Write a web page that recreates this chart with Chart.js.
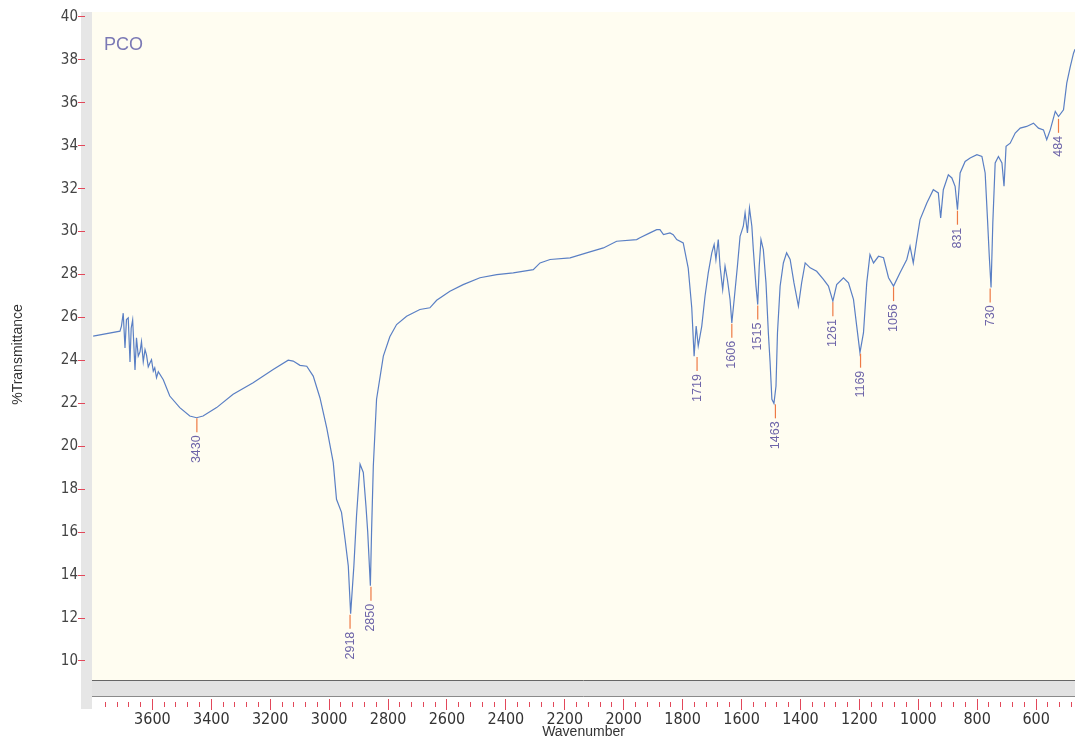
<!DOCTYPE html>
<html><head><meta charset="utf-8">
<script src="https://cdn.jsdelivr.net/npm/chart.js@4.4.0/dist/chart.umd.min.js"></script>
<style>html,body{margin:0;padding:0;background:#fff;}canvas{display:block;}</style>
</head><body>
<canvas id="c" width="1075" height="739"></canvas>
<script>
// ---- data ----
const wavenumber = [3801,3710,3705,3699,3693,3688,3682,3676,3672,3667,3659,3654,3648,3642,3637,3631,3625,3620,3614,3608,3603,3597,3592,3586,3580,3563,
  3541,3507,3473,3450,3428,3382,3326,3258,3190,3139,3122,3099,3076,3054,3031,3008,2986,2975,2958,2946,2935,2927,
  2916,2907,2895,2884,2875,2869,2860,2856,2850,2839,2816,2794,2771,2737,2692,2658,2635,2590,2545,2488,2431,2375,
  2307,2284,2250,2182,2126,2069,2024,1956,1945,1911,1888,1877,1865,1843,1832,1820,1798,1781,1769,1761,1754,1747,
  1735,1724,1713,1701,1693,1687,1679,1673,1664,1656,1648,1639,1633,1625,1614,1605,1594,1588,1580,1573,1565,1560,
  1551,1545,1540,1534,1526,1517,1509,1503,1497,1490,1483,1478,1469,1458,1447,1435,1422,1407,1396,1384,1367,1345,
  1322,1305,1290,1277,1254,1237,1220,1209,1198,1186,1175,1164,1152,1135,1118,1101,1084,1062,1039,1028,1017,1005,
  994,971,949,932,924,915,898,886,875,867,858,841,824,801,784,773,765,759,753,747,739,728,716,709,702,688,671,654,
  632,609,592,575,564,552,535,524,507,496,484,473,468];
const transmittance = [25.13,25.36,25.6,26.2,24.58,25.9,25.98,23.93,25.5,25.89,23.56,25.05,24.2,24.4,24.87,23.93,24.5,24.26,23.7,23.89,24.03,23.5,23.66,23.2,23.47,23.1,
  22.34,21.8,21.41,21.33,21.41,21.8,22.42,22.96,23.58,24.01,23.97,23.77,23.73,23.27,22.25,20.85,19.24,17.53,16.92,15.67,14.43,12.2,
  14.43,16.76,19.16,18.78,17.22,16.0,13.5,16.0,19.08,22.19,24.2,25.1,25.67,26.06,26.37,26.45,26.8,27.22,27.53,27.85,28.0,28.08,
  28.23,28.54,28.7,28.78,29.01,29.24,29.55,29.63,29.71,29.94,30.09,30.09,29.86,29.94,29.86,29.63,29.47,28.3,26.45,24.2,25.6,24.67,
  25.6,26.99,28.08,29.01,29.4,28.7,29.63,28.39,27.3,28.39,27.77,26.84,25.75,26.84,28.39,29.78,30.25,30.87,29.94,31.1,30.25,29.16,
  27.46,26.6,28.39,29.63,29.16,27.61,25.29,23.89,22.19,22.0,22.81,25.29,27.46,28.54,29.01,28.7,27.61,26.53,27.61,28.54,28.31,28.15,
  27.77,27.46,26.76,27.53,27.85,27.61,26.84,25.6,24.36,25.29,27.61,28.93,28.54,28.85,28.78,27.85,27.46,28.08,28.7,29.32,28.54,29.63,
  30.56,31.33,31.95,31.8,30.64,31.95,32.65,32.5,32.11,31.02,32.73,33.27,33.43,33.58,33.5,32.73,30.56,28.85,27.4,30.4,33.2,33.5,33.2,32.11,33.97,34.12,34.59,34.82,
  34.9,35.05,34.82,34.74,34.28,34.74,35.6,35.36,35.67,36.92,37.69,38.31,38.5];

const peakLabels = ['3430','2918','2850','1719','1606','1515','1463','1261','1169','1056','831','730','484'];
const peakWavenumber = [3449,2929,2858,1751,1633,1545,1485,1290,1196,1084,867,756,524];
const peakTransmittance = [21.35,12.2,13.5,24.2,25.75,26.6,22.0,26.76,24.36,27.46,31.02,27.4,35.3];

const xMajorTicks = [3600,3400,3200,3000,2800,2600,2400,2200,2000,1800,1600,1400,1200,1000,800,600];
const yTicks = [10,12,14,16,18,20,22,24,26,28,30,32,34,36,38,40];
const sampleName = 'PCO';
const xTitle = 'Wavenumber';
const yTitle = '%Transmittance';

// ---- chart ----
const narrow = '"Liberation Sans Narrow", "DejaVu Sans Condensed", "Liberation Sans", sans-serif';
const sans = '"Liberation Sans", Arial, sans-serif';

const points = wavenumber.map((w, i) => ({x: w, y: transmittance[i]}));
const minorTicks = [];
for (let w = 3760; w >= 480; w -= 40) minorTicks.push(w);

const framePlugin = {
  id: 'frame',
  beforeDraw(chart) {
    const {ctx, chartArea: a} = chart;
    ctx.save();
    ctx.fillStyle = '#fffdf1';
    ctx.fillRect(a.left, a.top, a.right - a.left, a.bottom - a.top);
    ctx.fillStyle = '#e6e6e6';
    ctx.fillRect(a.left - 11, a.top, 11, a.bottom - a.top + 12);
    ctx.fillStyle = '#e2e2e2';
    ctx.fillRect(a.left, a.bottom - 16, a.right - a.left, 16);
    ctx.strokeStyle = '#666';
    ctx.lineWidth = 1;
    ctx.beginPath();
    ctx.moveTo(a.left, a.bottom - 16.5); ctx.lineTo(a.right, a.bottom - 16.5);
    ctx.stroke();
    ctx.strokeStyle = '#8a8a8a';
    ctx.beginPath();
    ctx.moveTo(a.left, a.bottom - 0.5); ctx.lineTo(a.right, a.bottom - 0.5);
    ctx.stroke();
    ctx.restore();
  },
  afterDatasetsDraw(chart) {
    const {ctx, scales: {x, y}, chartArea: a} = chart;
    ctx.save();
    peakLabels.forEach((lab, i) => {
      const px = x.getPixelForValue(peakWavenumber[i]);
      const py = y.getPixelForValue(peakTransmittance[i]);
      ctx.strokeStyle = '#ee7a45';
      ctx.lineWidth = 1.2;
      ctx.beginPath();
      ctx.moveTo(px, py + 1);
      ctx.lineTo(px, py + 15);
      ctx.stroke();
      ctx.save();
      ctx.translate(px, py + 18);
      ctx.rotate(-Math.PI / 2);
      ctx.font = '12.5px ' + sans;
      ctx.fillStyle = '#6d64a8';
      ctx.textAlign = 'right';
      ctx.textBaseline = 'middle';
      ctx.fillText(lab, 0, 0);
      ctx.restore();
    });
    ctx.font = '18px ' + sans;
    ctx.fillStyle = '#7b79b5';
    ctx.textAlign = 'left';
    ctx.textBaseline = 'middle';
    ctx.fillText(sampleName, a.left + 12, 45);
    ctx.restore();
  }
};

new Chart(document.getElementById('c'), {
  type: 'line',
  data: {
    datasets: [{
      data: points,
      borderColor: '#5a7fc4',
      borderWidth: 1.2,
      pointRadius: 0,
      tension: 0,
      fill: false
    }]
  },
  options: {
    responsive: false,
    animation: false,
    devicePixelRatio: 1,
    layout: {padding: {top: 12, right: 0, left: 0, bottom: 0}},
    plugins: {legend: {display: false}, tooltip: {enabled: false}},
    scales: {
      x: {
        type: 'linear',
        reverse: true,
        min: 468,
        max: 3805,
        border: {display: false},
        afterFit(s) { s.height = 42; },
        afterBuildTicks(s) { s.ticks = minorTicks.map(v => ({value: v})); },
        grid: {
          drawOnChartArea: false,
          drawTicks: true,
          tickLength: 13,
          tickColor: '#e2485a',
          tickWidth: 1,
          tickBorderDash: (c) => (c.tick && xMajorTicks.includes(c.tick.value)) ? [0, 2, 11, 30] : [0, 5, 5, 30]
        },
        ticks: {
          autoSkip: false,
          maxRotation: 0,
          padding: 0,
          color: '#333',
          font: {family: narrow, size: 16},
          callback: (v) => xMajorTicks.includes(v) ? String(v) : ''
        },
        title: {
          display: true,
          text: xTitle,
          color: '#333',
          font: {family: sans, size: 14, lineHeight: 1.0},
          padding: {top: 0, bottom: 0}
        }
      },
      y: {
        type: 'linear',
        min: 8.32,
        max: 40.23,
        border: {display: false},
        afterFit(s) { s.width = 92; },
        afterBuildTicks(s) { s.ticks = yTicks.map(v => ({value: v})); },
        grid: {
          drawOnChartArea: false,
          drawTicks: true,
          tickLength: 14,
          tickColor: '#e2485a',
          tickWidth: 1,
          tickBorderDash: [7, 30]
        },
        ticks: {
          padding: 0,
          color: '#444',
          font: {family: narrow, size: 15},
          callback: (v) => String(v)
        },
        title: {
          display: true,
          text: yTitle,
          color: '#333',
          font: {family: sans, size: 14},
          padding: {top: 10, bottom: 0}
        }
      }
    }
  },
  plugins: [framePlugin]
});
</script>
</body></html>
